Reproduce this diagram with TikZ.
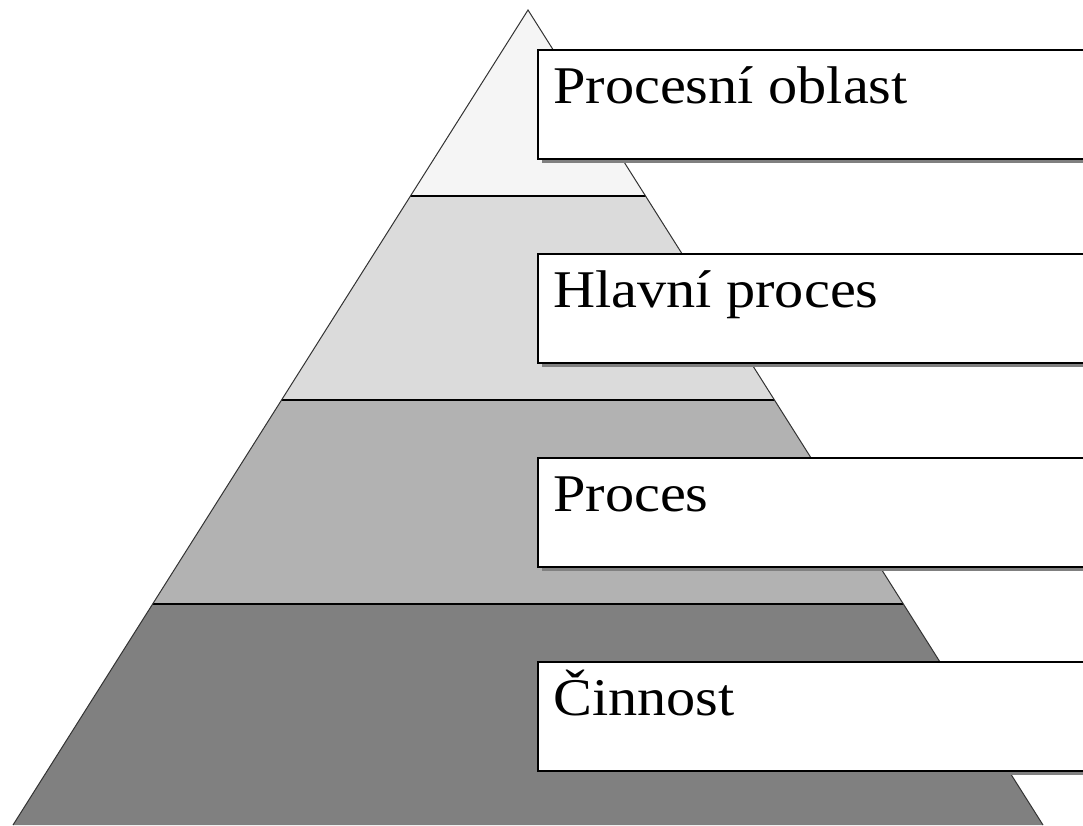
\documentclass[tikz,border=0pt]{standalone}
\usepackage{fontspec}
\setmainfont{Liberation Serif}[FakeStretch=1.1]
\begin{document}
\begin{tikzpicture}[x=1pt,y=-1pt,
  divider/.style={line width=1.8pt,black},
  levelbox/.style={draw=black,line width=1.6pt,fill=white,
    minimum width=560pt,minimum height=109pt,anchor=north west,inner sep=0pt},
  boxshadow/.style={fill=black!50,draw=none},
  leveltext/.style={anchor=base west,inner sep=0pt,font=\fontsize{53}{60}\selectfont}]
\useasboundingbox (0,0) rectangle (1083,825);
\clip (0,0) rectangle (1083,825);
% pyramid bands
\coordinate (apex) at (528,10);
\coordinate (baseL) at (13,825);
\coordinate (baseR) at (1043,825);
\begin{scope}
  \clip (apex) -- (baseL) -- (baseR) -- cycle;
  \fill[black!4] (0,0) rectangle (1083,196);
  \fill[black!14] (0,196) rectangle (1083,400);
  \fill[black!30] (0,400) rectangle (1083,604);
  \fill[black!50] (0,604) rectangle (1083,830);
  \draw[divider] (0,196) -- (1083,196);
  \draw[divider] (0,400) -- (1083,400);
  \draw[divider] (0,604) -- (1083,604);
\end{scope}
\draw[line width=1pt,black!80] (baseL) -- (apex) -- (baseR);
% level boxes with drop shadows
\foreach \i/\txt in {0/{Procesní oblast},1/{Hlavní proces},2/{Proces},3/{Činnost}}{
  \pgfmathsetmacro{\top}{49+204*\i}
  \fill[boxshadow] (542,\top+5) rectangle (1090,\top+114);
  \node[levelbox] (box\i) at (537,\top) {};
  \node[leveltext] (label\i) at (553,\top+54) {\txt};
}
\end{tikzpicture}
\end{document}
